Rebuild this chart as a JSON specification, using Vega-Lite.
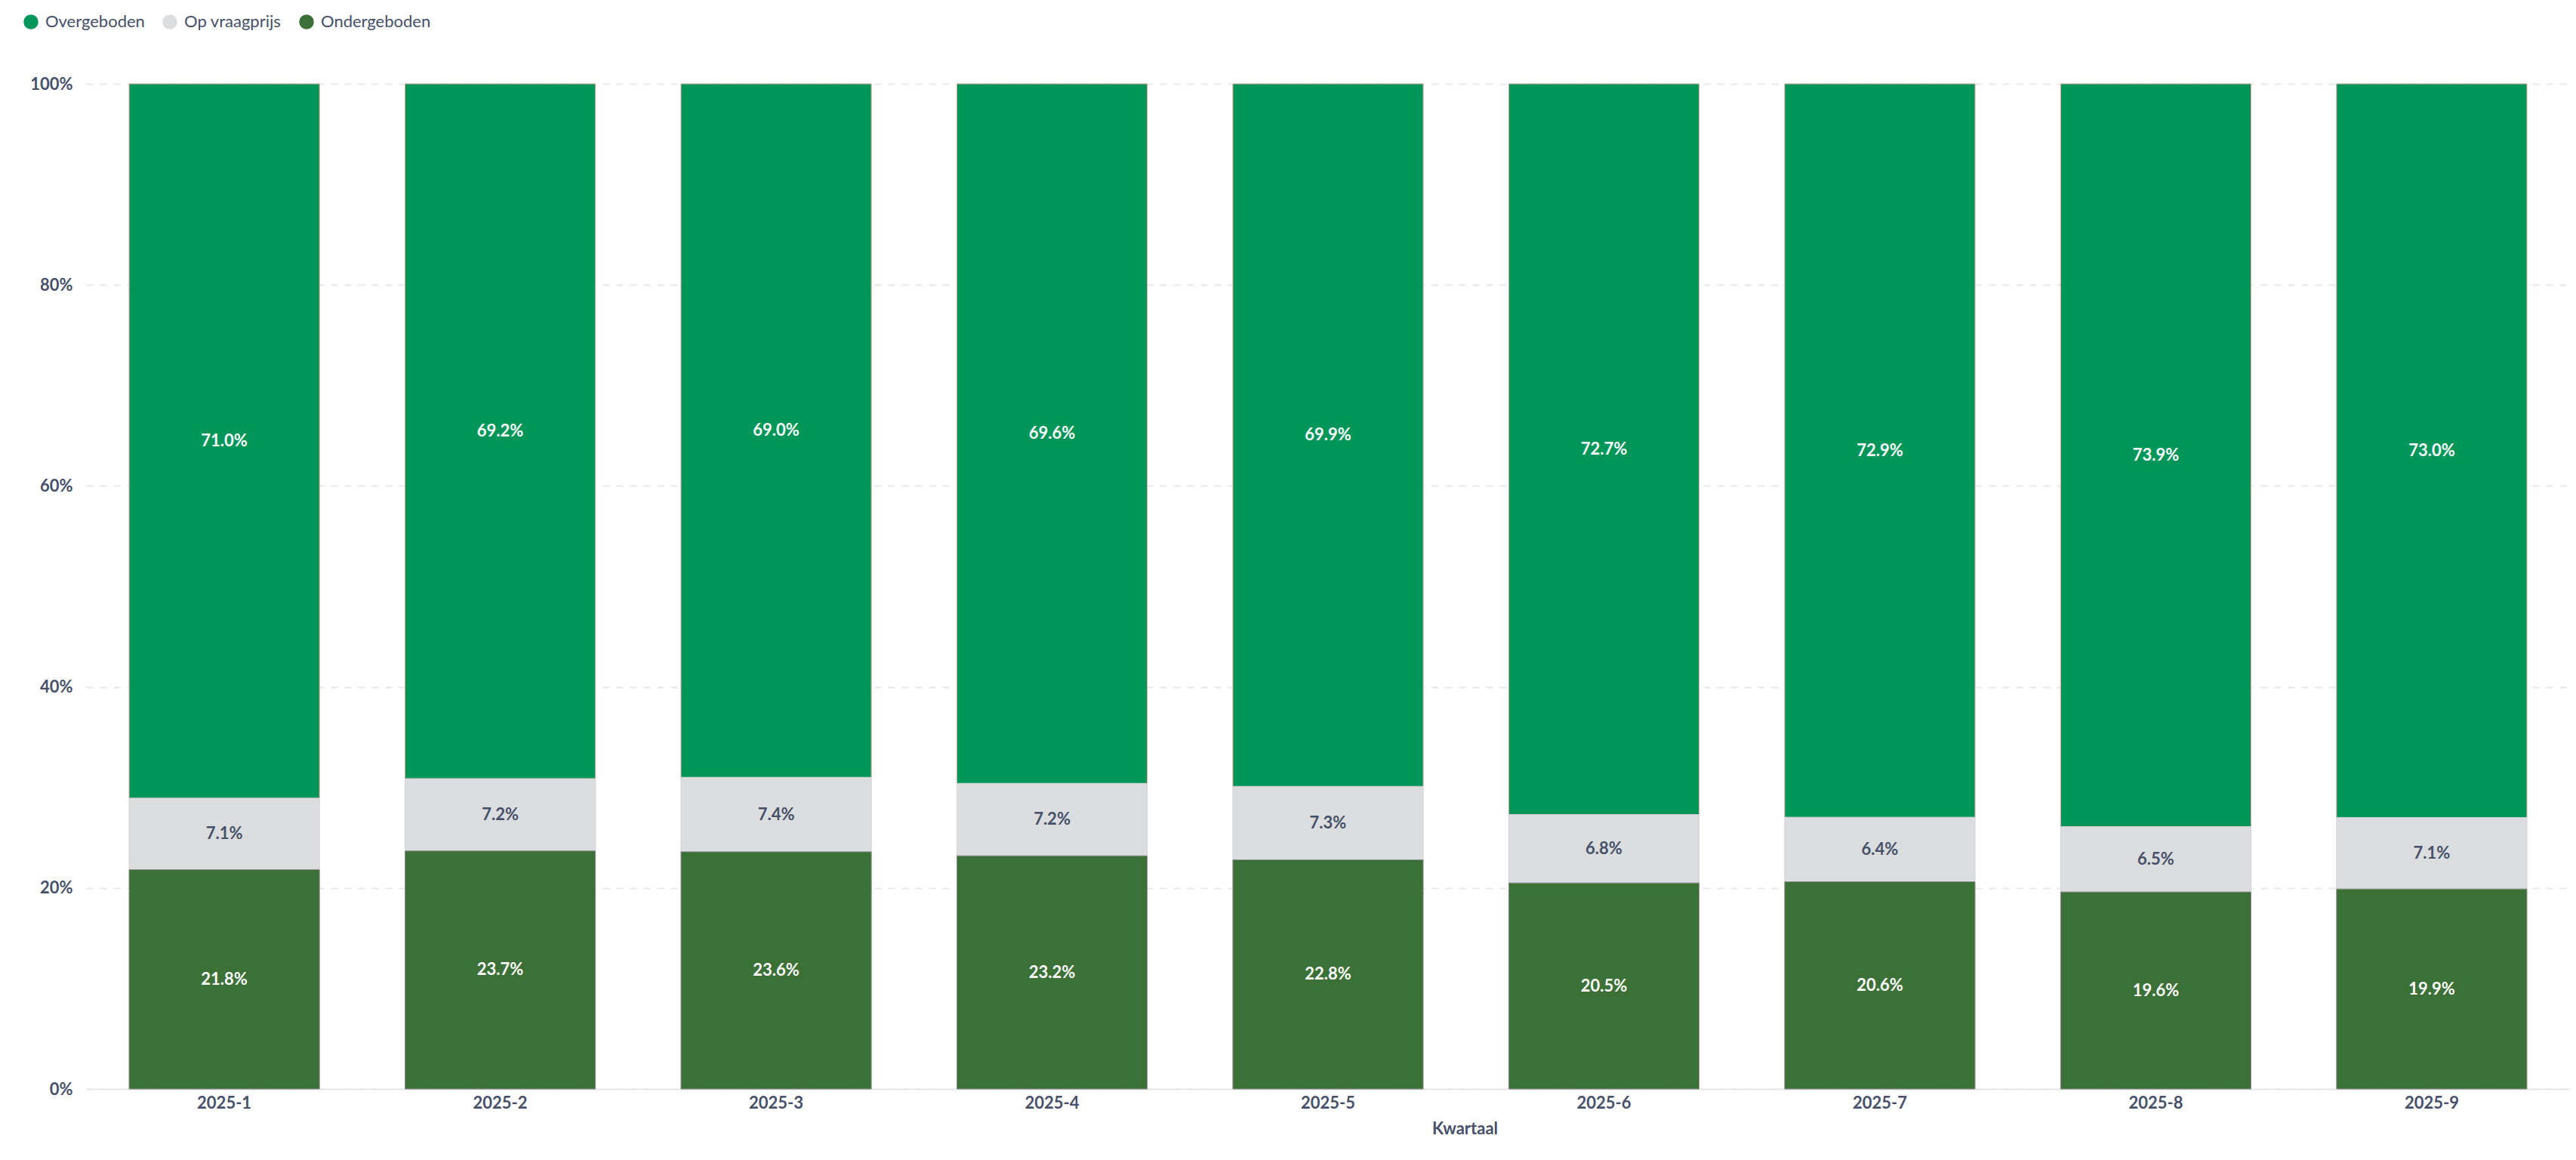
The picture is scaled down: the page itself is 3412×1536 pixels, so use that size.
{
  "$schema": "https://vega.github.io/schema/vega-lite/v6.json",
  "autosize": "none",
  "padding": {"left": 114, "top": 111, "right": 8, "bottom": 94},
  "width": 3290,
  "height": 1331,
  "background": "white",
  "data": {
    "values": [
      {"Kwartaal": "2025-1", "Type": "Overgeboden", "k": 3, "Aandeel": 0.710},
      {"Kwartaal": "2025-1", "Type": "Op vraagprijs", "k": 2, "Aandeel": 0.071},
      {"Kwartaal": "2025-1", "Type": "Ondergeboden", "k": 1, "Aandeel": 0.218},
      {"Kwartaal": "2025-2", "Type": "Overgeboden", "k": 3, "Aandeel": 0.692},
      {"Kwartaal": "2025-2", "Type": "Op vraagprijs", "k": 2, "Aandeel": 0.072},
      {"Kwartaal": "2025-2", "Type": "Ondergeboden", "k": 1, "Aandeel": 0.237},
      {"Kwartaal": "2025-3", "Type": "Overgeboden", "k": 3, "Aandeel": 0.690},
      {"Kwartaal": "2025-3", "Type": "Op vraagprijs", "k": 2, "Aandeel": 0.074},
      {"Kwartaal": "2025-3", "Type": "Ondergeboden", "k": 1, "Aandeel": 0.236},
      {"Kwartaal": "2025-4", "Type": "Overgeboden", "k": 3, "Aandeel": 0.696},
      {"Kwartaal": "2025-4", "Type": "Op vraagprijs", "k": 2, "Aandeel": 0.072},
      {"Kwartaal": "2025-4", "Type": "Ondergeboden", "k": 1, "Aandeel": 0.232},
      {"Kwartaal": "2025-5", "Type": "Overgeboden", "k": 3, "Aandeel": 0.699},
      {"Kwartaal": "2025-5", "Type": "Op vraagprijs", "k": 2, "Aandeel": 0.073},
      {"Kwartaal": "2025-5", "Type": "Ondergeboden", "k": 1, "Aandeel": 0.228},
      {"Kwartaal": "2025-6", "Type": "Overgeboden", "k": 3, "Aandeel": 0.727},
      {"Kwartaal": "2025-6", "Type": "Op vraagprijs", "k": 2, "Aandeel": 0.068},
      {"Kwartaal": "2025-6", "Type": "Ondergeboden", "k": 1, "Aandeel": 0.205},
      {"Kwartaal": "2025-7", "Type": "Overgeboden", "k": 3, "Aandeel": 0.729},
      {"Kwartaal": "2025-7", "Type": "Op vraagprijs", "k": 2, "Aandeel": 0.064},
      {"Kwartaal": "2025-7", "Type": "Ondergeboden", "k": 1, "Aandeel": 0.206},
      {"Kwartaal": "2025-8", "Type": "Overgeboden", "k": 3, "Aandeel": 0.739},
      {"Kwartaal": "2025-8", "Type": "Op vraagprijs", "k": 2, "Aandeel": 0.065},
      {"Kwartaal": "2025-8", "Type": "Ondergeboden", "k": 1, "Aandeel": 0.196},
      {"Kwartaal": "2025-9", "Type": "Overgeboden", "k": 3, "Aandeel": 0.730},
      {"Kwartaal": "2025-9", "Type": "Op vraagprijs", "k": 2, "Aandeel": 0.071},
      {"Kwartaal": "2025-9", "Type": "Ondergeboden", "k": 1, "Aandeel": 0.199}
    ]
  },
  "transform": [
    {
      "stack": "Aandeel",
      "groupby": ["Kwartaal"],
      "sort": [{"field": "k", "order": "ascending"}],
      "offset": "normalize",
      "as": ["y0", "y1"]
    },
    {"calculate": "(datum.y0 + datum.y1) / 2", "as": "ymid"}
  ],
  "encoding": {
    "x": {
      "field": "Kwartaal",
      "type": "ordinal",
      "scale": {"paddingInner": 0.31, "paddingOuter": 0.156},
      "axis": {
        "title": "Kwartaal",
        "labelAngle": 0,
        "labelFontSize": 22,
        "labelFontWeight": 700,
        "labelColor": "#465069",
        "labelPadding": 8,
        "ticks": false,
        "domain": true,
        "domainColor": "#e8e8ea",
        "domainWidth": 2,
        "titleFontSize": 22,
        "titleFontWeight": 700,
        "titleColor": "#465069",
        "titleX": 1826,
        "titleY": 52,
        "titleAlign": "center",
        "titleBaseline": "middle"
      }
    }
  },
  "layer": [
    {
      "mark": {"type": "bar", "strokeWidth": 1},
      "encoding": {
        "y": {
          "field": "y1",
          "type": "quantitative",
          "scale": {"domain": [0, 1], "nice": false},
          "axis": {
            "title": null,
            "format": ".0%",
            "values": [0, 0.2, 0.4, 0.6, 0.8, 1],
            "labelFontSize": 22,
            "labelFontWeight": 700,
            "labelColor": "#465069",
            "labelPadding": 18,
            "ticks": false,
            "domain": false,
            "grid": true,
            "gridColor": "#e8e8ea",
            "gridWidth": 2,
            "gridDash": [9, 9]
          }
        },
        "y2": {"field": "y0"},
        "color": {
          "field": "Type",
          "type": "nominal",
          "scale": {
            "domain": ["Overgeboden", "Op vraagprijs", "Ondergeboden"],
            "range": ["#00965a", "#dcdddf", "#3b7036"]
          },
          "legend": {
            "title": null,
            "orient": "none",
            "direction": "horizontal",
            "legendX": -84,
            "legendY": -93,
            "symbolType": "circle",
            "symbolSize": 380,
            "symbolStrokeWidth": 0,
            "labelFontSize": 22,
            "labelColor": "#465069",
            "labelOffset": 8,
            "columnPadding": 22
          }
        },
        "stroke": {
          "field": "Type",
          "type": "nominal",
          "scale": {
            "domain": ["Overgeboden", "Op vraagprijs", "Ondergeboden"],
            "range": ["#e0a8a0", "#d2d3d6", "#8c8c8c"]
          },
          "legend": null
        }
      }
    },
    {
      "mark": {"type": "text", "fontSize": 22, "fontWeight": 700, "baseline": "middle", "align": "center"},
      "encoding": {
        "y": {"field": "ymid", "type": "quantitative"},
        "text": {"field": "Aandeel", "type": "quantitative", "format": ".1%"},
        "color": {
          "condition": {"test": "datum.Type === 'Op vraagprijs'", "value": "#465069"},
          "value": "#ffffff"
        }
      }
    }
  ],
  "config": {
    "font": "Lato",
    "view": {"stroke": null},
    "axis": {"gridCap": "butt"}
  }
}
